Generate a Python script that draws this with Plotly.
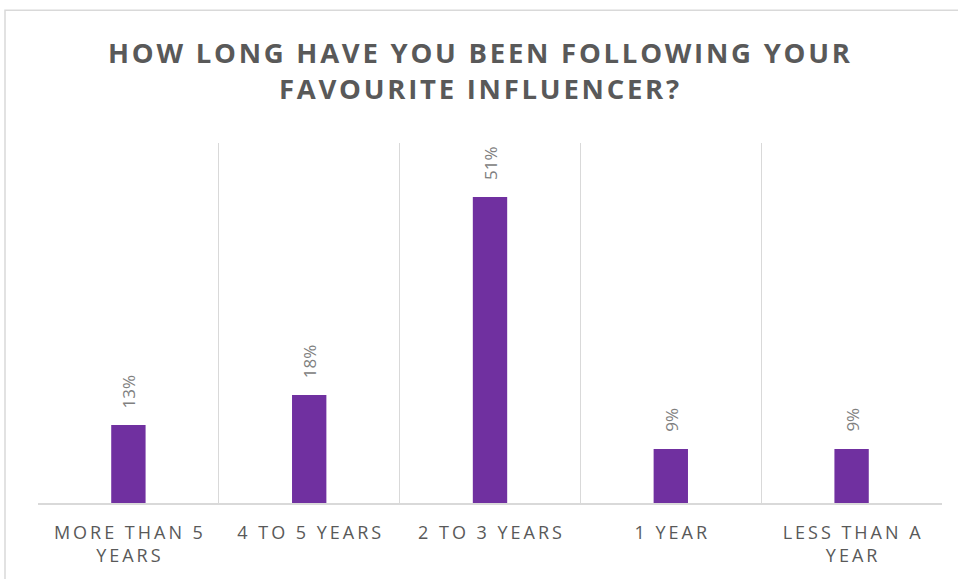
import plotly.graph_objects as go

# Survey answers: how long respondents have followed their favourite influencer
categories = [["MORE THAN 5", "YEARS"], ["4 TO 5 YEARS"], ["2 TO 3 YEARS"], ["1 YEAR"], ["LESS THAN A", "YEAR"]]
shares = [0.13, 0.18, 0.51, 0.09, 0.09]
value_labels = ["13%", "18%", "51%", "9%", "9%"]

title_lines = ["HOW LONG HAVE YOU BEEN FOLLOWING YOUR", "FAVOURITE INFLUENCER?"]

HAIR = "\u200a"
THIN = "\u2009"


def spaced(line, sep):
    """Tracked-out caps: put a narrow space between every character."""
    return sep.join(line)


tick_text = ["<br>".join(spaced(part, THIN) for part in cat) for cat in categories]
title_text = "<br>".join(spaced(line, HAIR) for line in title_lines)

fig = go.Figure(
    go.Bar(
        x=tick_text,
        y=shares,
        marker=dict(color="#7030A0", line=dict(width=0)),
        width=0.19,
        hoverinfo="skip",
    )
)

# value labels, rotated, sitting a fixed gap above each bar
for cat, val, lab in zip(tick_text, shares, value_labels):
    fig.add_annotation(
        x=cat,
        y=val,
        text=lab,
        textangle=-90,
        showarrow=False,
        xanchor="center",
        yanchor="bottom",
        yshift=15,
        font=dict(family="Open Sans", size=17, color="#808080"),
    )

fig.update_layout(
    width=958,
    height=579,
    margin=dict(l=38, r=16, t=143, b=76),
    paper_bgcolor="white",
    plot_bgcolor="white",
    showlegend=False,
    title=dict(
        text="<b>" + title_text + "</b>",
        x=0.5,
        xanchor="center",
        y=0.891,
        yanchor="middle",
        font=dict(family="Open Sans", size=27.5, color="#595959"),
    ),
    xaxis=dict(
        type="category",
        tickson="boundaries",
        showgrid=True,
        gridcolor="#d9d9d9",
        gridwidth=1,
        showline=True,
        linecolor="#d9d9d9",
        linewidth=2,
        ticks="",
        tickfont=dict(family="Open Sans", size=18, color="#595959"),
        ticklabelstandoff=12,
    ),
    yaxis=dict(
        range=[0, 0.6],
        visible=False,
        showgrid=False,
        zeroline=False,
    ),
    shapes=[
        dict(
            type="rect",
            xref="paper",
            yref="paper",
            x0=-0.0365,
            x1=1.1,
            y0=-0.5,
            y1=1.369,
            line=dict(color="#d9d9d9", width=1.5),
            fillcolor="rgba(0,0,0,0)",
            layer="below",
        )
    ],
)

fig.write_html("out.html")
